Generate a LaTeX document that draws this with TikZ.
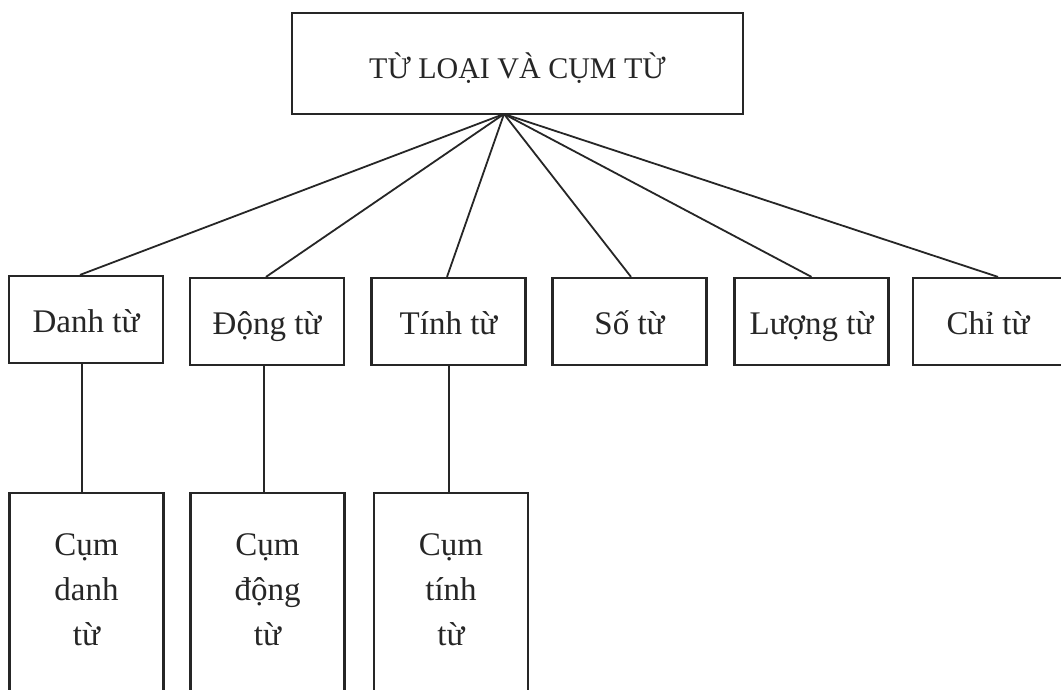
\documentclass[tikz,border=0pt]{standalone}
\usepackage{fontspec}
\setmainfont{Liberation Serif}
\newcommand{\fsmain}{\fontsize{33}{45}\selectfont}
\newcommand{\fstitle}{\fontsize{30}{40}\selectfont}
\tikzset{
  box/.style={draw=black!85, line width=2.2pt, inner sep=0pt, text=black!85,
              text height=28pt, text depth=3pt, font=\fsmain},
  rowbox/.style={box, minimum width=154pt, minimum height=87pt},
  lowbox/.style={draw=black!85, line width=2.2pt, inner sep=0pt,
              minimum width=154pt, minimum height=207pt},
  conn/.style={draw=black!85, line width=1.8pt},
  lbl/.style={anchor=base, inner sep=0pt, text=black!85, font=\fsmain},
}
\begin{document}
\begin{tikzpicture}[x=1pt,y=-1pt]
\useasboundingbox (0,0) rectangle (1061,690);
\clip (0,0) rectangle (1061,690);
\fill[white] (0,0) rectangle (1061,690);
% title
\node[box, font=\fstitle, text height=34pt, text depth=3pt,
      minimum width=451pt, minimum height=101pt] (top) at (517.5,63.5) {TỪ LOẠI VÀ CỤM TỪ};
\coordinate (apex) at (504,114);
% first row
\node[rowbox] (dt) at (86,319.5) {Danh từ};
\node[rowbox] (dgt) at (267,321.5) {Động từ};
\node[rowbox] (tt) at (448.5,321.5) {Tính từ};
\node[rowbox] (st) at (629.5,321.5) {Số từ};
\node[rowbox] (lt) at (811.5,321.5) {Lượng từ};
\node[rowbox, minimum width=150pt] (ct) at (988,321.5) {Chỉ từ};
% connectors from title
\draw[conn] (apex) -- ([xshift=-6pt]dt.north);
\draw[conn] (apex) -- ([xshift=-1pt]dgt.north);
\draw[conn] (apex) -- ([xshift=-1.5pt]tt.north);
\draw[conn] (apex) -- ([xshift=1.5pt]st.north);
\draw[conn] (apex) -- (lt.north);
\draw[conn] (apex) -- ([xshift=10pt]ct.north);
% second row
\node[lowbox] (cdt) at (86.5,596.5) {};
\node[lowbox] (cdgt) at (267.5,596.5) {};
\node[lowbox] (ctt) at (451,596.5) {};
\node[lbl] (cdt1) at (86.5,555) {Cụm};
\node[lbl] (cdt2) at (86.5,600) {danh};
\node[lbl] (cdt3) at (86.5,645) {từ};
\node[lbl] (cdgt1) at (267.5,555) {Cụm};
\node[lbl] (cdgt2) at (267.5,600) {động};
\node[lbl] (cdgt3) at (267.5,645) {từ};
\node[lbl] (ctt1) at (451,555) {Cụm};
\node[lbl] (ctt2) at (451,600) {tính};
\node[lbl] (ctt3) at (451,645) {từ};
% vertical connectors
\draw[conn] ([xshift=-4pt]dt.south) -- ([xshift=-4.5pt]cdt.north);
\draw[conn] ([xshift=-3pt]dgt.south) -- ([xshift=-3.5pt]cdgt.north);
\draw[conn] ([xshift=0.5pt]tt.south) -- ([xshift=-2pt]ctt.north);
\end{tikzpicture}
\end{document}
